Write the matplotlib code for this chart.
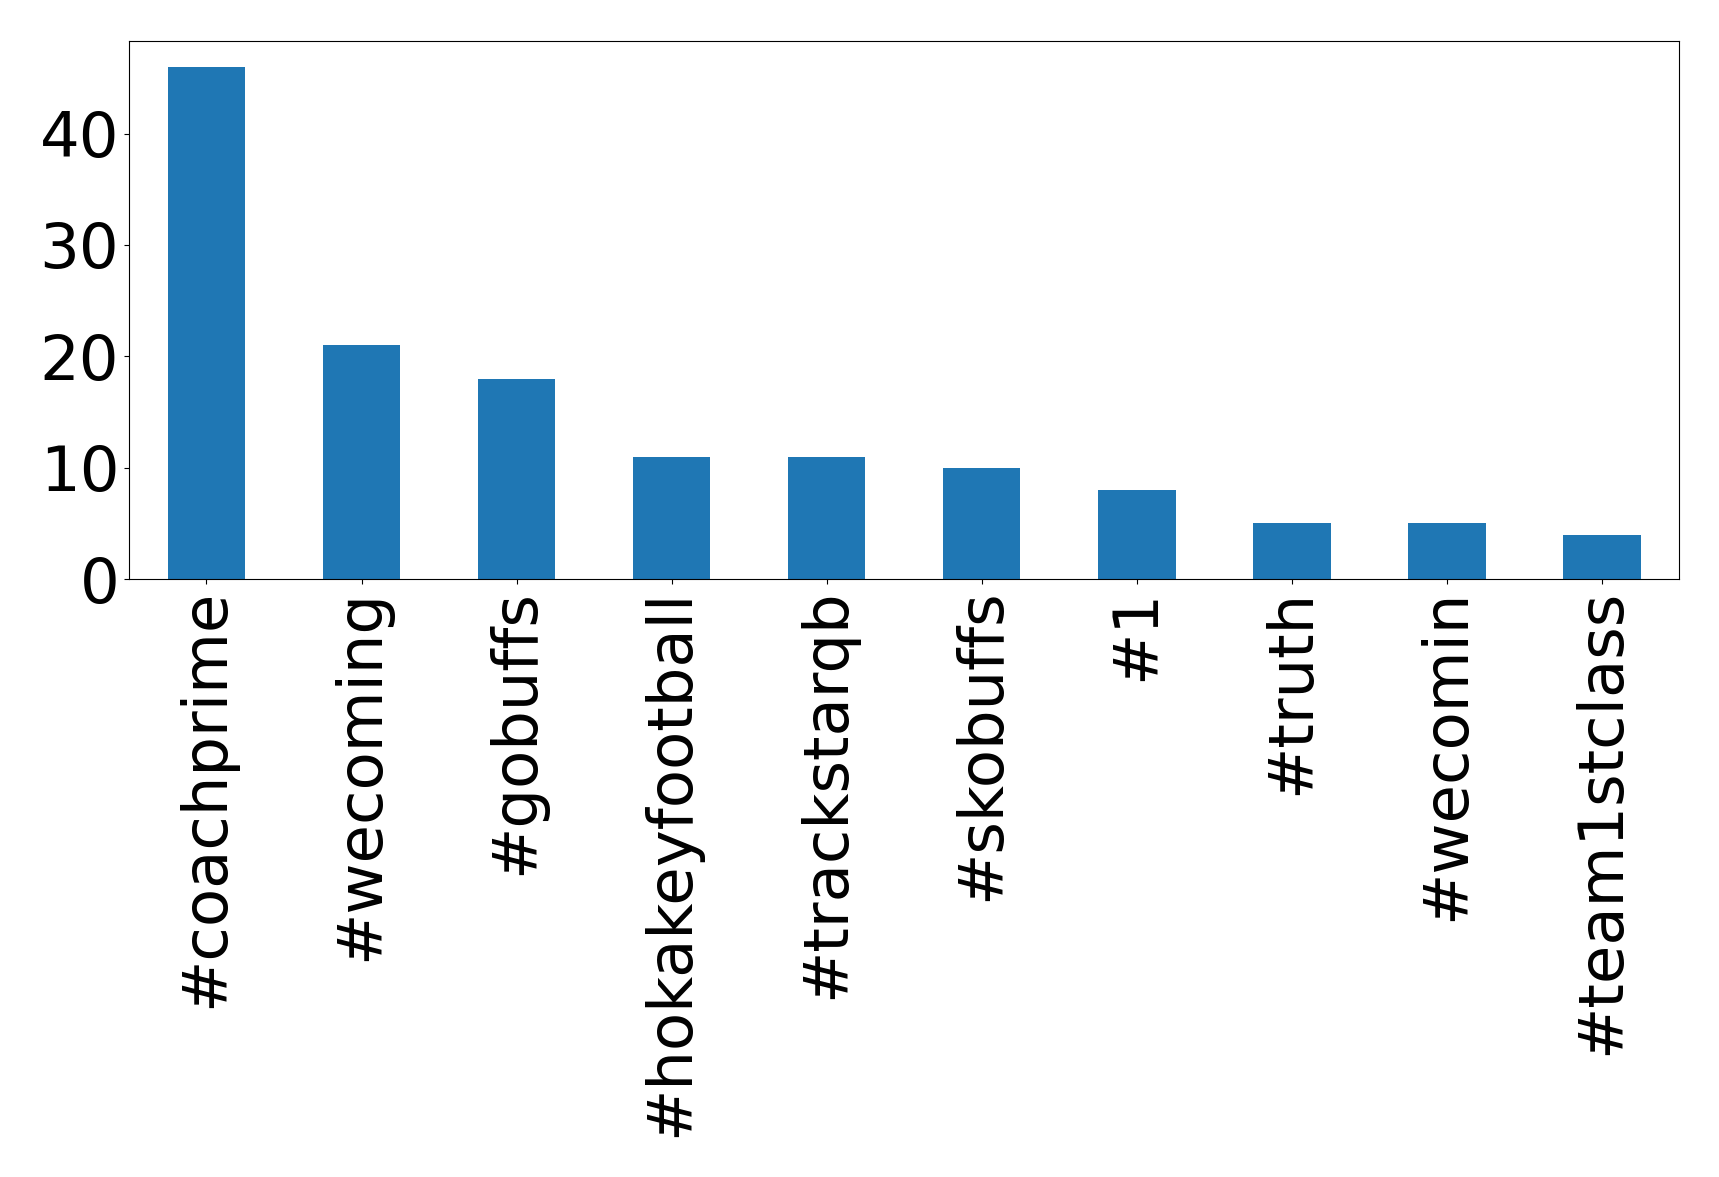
import matplotlib
matplotlib.use("Agg")
import matplotlib.pyplot as plt

# hashtag counts
tags = ["#coachprime", "#wecoming", "#gobuffs", "#hokakeyfootball", "#trackstarqb",
        "#skobuffs", "#1", "#truth", "#wecomin", "#team1stclass"]
counts = [46, 21, 18, 11, 11, 10, 8, 5, 5, 4]

fig = plt.figure(figsize=(17.19, 11.77), dpi=100)
ax = fig.add_axes([0.075, 0.508, 0.902, 0.457])

x = range(len(tags))
ax.bar(x, counts, width=0.5, color="#1f77b4")
ax.set_xlim(-0.5, len(tags) - 0.5)
ax.set_xticks(list(x))
ax.set_xticklabels(tags, rotation=90)
ax.tick_params(labelsize=45)
ax.set_yticks([0, 10, 20, 30, 40])

fig.savefig("out.png", dpi=100)
